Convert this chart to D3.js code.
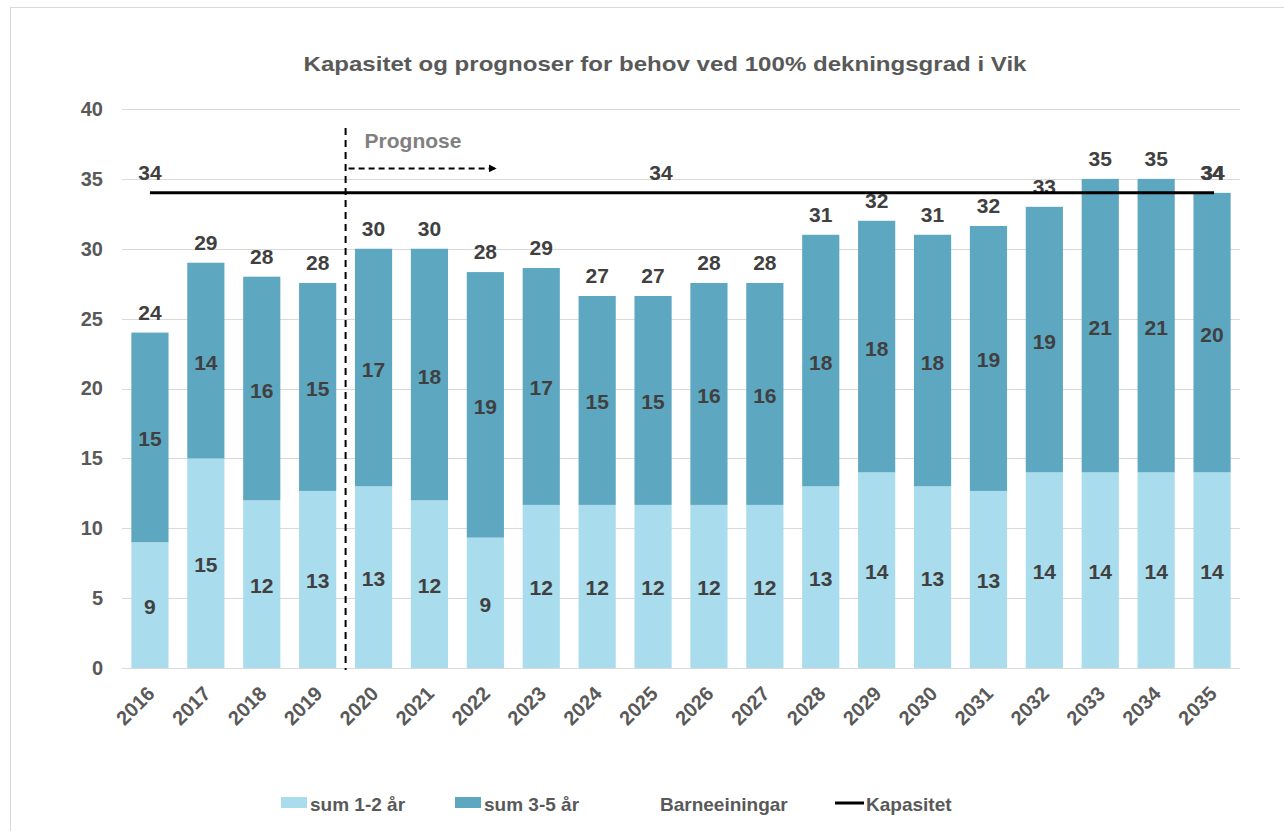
<!DOCTYPE html>
<html>
<head>
<meta charset="utf-8">
<script src="https://cdn.jsdelivr.net/npm/d3@7"></script>
<style>
  body { margin: 0; background: #fff; }
  svg { font-family: "Liberation Sans", Arial, sans-serif; font-weight: bold; }
</style>
</head>
<body>
<div id="chart"></div>
<script>
// data
const years = ["2016","2017","2018","2019","2020","2021","2022","2023","2024","2025",
               "2026","2027","2028","2029","2030","2031","2032","2033","2034","2035"]
const sum12 = [9, 15, 12, 12.67, 13, 12, 9.33, 11.67, 11.67, 11.67,
               11.67, 11.67, 13, 14, 13, 12.67, 14, 14, 14, 14]
const sum35 = [15, 14, 16, 14.88, 17, 18, 19, 16.95, 14.95, 14.95,
               15.88, 15.88, 18, 18, 18, 18.96, 19, 21, 21, 20]
const kapasitet = 34
const kapLabelIdx = [0, 9, 19]
const yTicks = [0, 5, 10, 15, 20, 25, 30, 35, 40]
const prognoseStart = "2020"
const legendNames = ["sum 1-2 år", "sum 3-5 år", "Barneeiningar", "Kapasitet"]

const W = 1284, H = 831
const margin = {top: 109, right: 44, bottom: 163, left: 122}
const C1 = "#a9dcec", C2 = "#5ea7c0"
const LABEL = "#404040", AXIS = "#595959"
const FONT = "Liberation Sans, Arial, sans-serif"

const svg = d3.select("#chart").append("svg")
  .attr("width", W).attr("height", H)

svg.append("rect")
  .attr("x", 10.5).attr("y", 7.5)
  .attr("width", W).attr("height", H)
  .attr("fill", "none").attr("stroke", "#d9d9d9")

const x = d3.scaleBand().domain(years)
  .range([margin.left, W - margin.right])
  .paddingInner(0.335).paddingOuter(0.1675)
const y = d3.scaleLinear().domain([0, 40])
  .range([H - margin.bottom, margin.top])

// gridlines
svg.append("g")
  .selectAll("line").data(yTicks).join("line")
    .attr("x1", margin.left).attr("x2", W - margin.right)
    .attr("y1", d => Math.round(y(d)) + 0.5).attr("y2", d => Math.round(y(d)) + 0.5)
    .attr("stroke", "#d9d9d9").attr("stroke-width", 1)

// y axis labels
const yAxis = svg.append("g")
  .attr("transform", `translate(${margin.left},0)`)
  .call(d3.axisLeft(y).tickValues(yTicks).tickSize(0).tickPadding(19))
yAxis.select(".domain").remove()
yAxis.selectAll("text")
  .attr("font-size", 20).attr("font-weight", "bold")
  .attr("fill", AXIS).attr("font-family", FONT)

// x axis labels
const xAxis = svg.append("g")
  .attr("transform", `translate(0,${H - margin.bottom})`)
  .call(d3.axisBottom(x).tickSize(0).tickPadding(0))
xAxis.select(".domain").remove()
xAxis.selectAll("text")
  .attr("font-size", 20).attr("font-weight", "bold")
  .attr("fill", AXIS).attr("font-family", FONT)
  .attr("text-anchor", "end")
  .attr("dy", null)
  .attr("transform", "translate(6,27) rotate(-45)")

// bars
const rows = years.map((yr, i) => ({yr, a: sum12[i], b: sum35[i], t: sum12[i] + sum35[i]}))
const bars = svg.append("g")
bars.selectAll(".b1").data(rows).join("rect")
  .attr("x", d => x(d.yr)).attr("width", x.bandwidth())
  .attr("y", d => y(d.a)).attr("height", d => y(0) - y(d.a))
  .attr("fill", C1)
bars.selectAll(".b2").data(rows).join("rect")
  .attr("x", d => x(d.yr)).attr("width", x.bandwidth())
  .attr("y", d => y(d.t)).attr("height", d => y(d.a) - y(d.t))
  .attr("fill", C2)

// segment labels
const labels = svg.append("g")
  .attr("font-size", 21).attr("fill", LABEL).attr("text-anchor", "middle")
labels.selectAll(".l1").data(rows).join("text")
  .attr("x", d => x(d.yr) + x.bandwidth() / 2)
  .attr("y", d => y(d.a / 2) + 9)
  .text(d => Math.round(d.a))
labels.selectAll(".l2").data(rows).join("text")
  .attr("x", d => x(d.yr) + x.bandwidth() / 2)
  .attr("y", d => y(d.a + d.b / 2) + 9)
  .text(d => Math.round(d.b))
labels.selectAll(".lt").data(rows).join("text")
  .attr("x", d => x(d.yr) + x.bandwidth() / 2)
  .attr("y", d => y(d.t) - 13)
  .text(d => Math.round(d.t))

// capacity line
const cx = yr => x(yr) + x.bandwidth() / 2
svg.append("line")
  .attr("x1", cx(years[0])).attr("x2", cx(years[years.length - 1]) + 2)
  .attr("y1", y(kapasitet)).attr("y2", y(kapasitet))
  .attr("stroke", "#000").attr("stroke-width", 3)
labels.selectAll(".lk").data(kapLabelIdx).join("text")
  .attr("x", i => cx(years[i]) + (i === 9 ? 8 : i === 19 ? 1 : 0))
  .attr("y", y(kapasitet) - 13)
  .text(kapasitet)

// prognose marker
const px = x(prognoseStart) - x.step() * x.paddingInner() / 2
svg.append("line")
  .attr("x1", px).attr("x2", px)
  .attr("y1", 128).attr("y2", y(0) + 2)
  .attr("stroke", "#000").attr("stroke-width", 2)
  .attr("stroke-dasharray", "7,5")
svg.append("defs").append("marker")
  .attr("id", "arrow").attr("viewBox", "0 0 10 10")
  .attr("refX", 10).attr("refY", 5)
  .attr("markerWidth", 4).attr("markerHeight", 4)
  .attr("orient", "auto")
  .append("path").attr("d", "M0,0L10,5L0,10Z").attr("fill", "#000")
svg.append("line")
  .attr("x1", px + 3).attr("x2", px + 151)
  .attr("y1", y(35.75)).attr("y2", y(35.75))
  .attr("stroke", "#000").attr("stroke-width", 2)
  .attr("stroke-dasharray", "6,4")
  .attr("marker-end", "url(#arrow)")
svg.append("text")
  .attr("x", px + 19).attr("y", 148)
  .attr("font-size", 21).attr("fill", "#808080")
  .text("Prognose")

// title
svg.append("text")
  .attr("x", 665).attr("y", 71)
  .attr("text-anchor", "middle")
  .attr("font-size", 21).attr("fill", AXIS)
  .attr("textLength", 723).attr("lengthAdjust", "spacingAndGlyphs")
  .text("Kapasitet og prognoser for behov ved 100% dekningsgrad i Vik")

// legend
const legendItems = [
  {name: legendNames[0], type: "rect", color: C1, x: 281},
  {name: legendNames[1], type: "rect", color: C2, x: 455},
  {name: legendNames[2], type: "none", color: "none", x: 631},
  {name: legendNames[3], type: "line", color: "#000", x: 835}
]
const lg = svg.append("g").attr("transform", "translate(0,803)")
const item = lg.selectAll("g").data(legendItems).join("g")
  .attr("transform", d => `translate(${d.x},0)`)
item.filter(d => d.type === "rect").append("rect")
  .attr("x", 0).attr("y", -6).attr("width", 26).attr("height", 11)
  .attr("fill", d => d.color)
item.filter(d => d.type === "line").append("line")
  .attr("x1", 0).attr("x2", 29).attr("y1", 0).attr("y2", 0)
  .attr("stroke", "#000").attr("stroke-width", 3)
item.append("text")
  .attr("x", d => d.type === "line" ? 31 : 29).attr("y", 8)
  .attr("font-size", 19).attr("fill", AXIS)
  .text(d => d.name)
</script>
</body>
</html>
